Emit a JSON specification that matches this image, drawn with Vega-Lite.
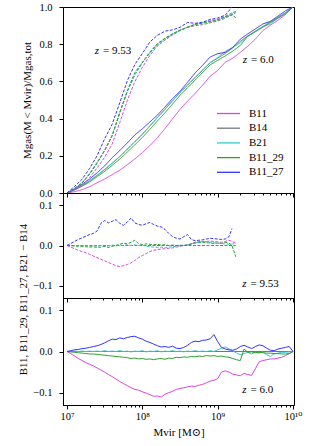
{
  "$schema": "https://vega.github.io/schema/vega-lite/v6.json",
  "padding": {"left": 17, "top": 1, "right": 0, "bottom": 0},
  "bounds": "flush",
  "spacing": 0,
  "config": {
    "font": "Liberation Serif, DejaVu Serif, serif",
    "view": {"stroke": "black", "strokeWidth": 1},
    "axis": {"grid": false, "domainColor": "black", "tickColor": "black", "labelColor": "black", "titleColor": "black", "labelFont": "Liberation Serif, DejaVu Serif, serif", "titleFont": "Liberation Serif, DejaVu Serif, serif", "labelFontSize": 10.5, "titleFontSize": 11, "titleFontWeight": "normal", "tickSize": 4, "labelPadding": 7},
    "legend": {"labelFont": "Liberation Serif, DejaVu Serif, serif"},
    "text": {"font": "Liberation Serif, DejaVu Serif, serif"}
  },
  "datasets": {
    "top": [
      {"z":"6.0","m":1e7,"B11":0,"B14":0,"B21":0,"B11_29":0,"B11_27":0},
      {"z":"6.0","m":1.259e7,"B11":0.007,"B14":0.018,"B21":0.019,"B11_29":0.016,"B11_27":0.022},
      {"z":"6.0","m":1.585e7,"B11":0.018,"B14":0.04,"B21":0.041,"B11_29":0.036,"B11_27":0.047},
      {"z":"6.0","m":1.995e7,"B11":0.034,"B14":0.065,"B21":0.066,"B11_29":0.059,"B11_27":0.075},
      {"z":"6.0","m":2.512e7,"B11":0.055,"B14":0.095,"B21":0.096,"B11_29":0.088,"B11_27":0.109},
      {"z":"6.0","m":3.162e7,"B11":0.075,"B14":0.125,"B21":0.127,"B11_29":0.116,"B11_27":0.146},
      {"z":"6.0","m":3.981e7,"B11":0.099,"B14":0.16,"B21":0.161,"B11_29":0.149,"B11_27":0.19},
      {"z":"6.0","m":5.012e7,"B11":0.122,"B14":0.195,"B21":0.197,"B11_29":0.182,"B11_27":0.228},
      {"z":"6.0","m":6.31e7,"B11":0.152,"B14":0.235,"B21":0.236,"B11_29":0.22,"B11_27":0.269},
      {"z":"6.0","m":7.943e7,"B11":0.183,"B14":0.275,"B21":0.276,"B11_29":0.259,"B11_27":0.312},
      {"z":"6.0","m":1e8,"B11":0.217,"B14":0.315,"B21":0.317,"B11_29":0.298,"B11_27":0.345},
      {"z":"6.0","m":1.259e8,"B11":0.255,"B14":0.36,"B21":0.361,"B11_29":0.342,"B11_27":0.382},
      {"z":"6.0","m":1.585e8,"B11":0.297,"B14":0.405,"B21":0.407,"B11_29":0.387,"B11_27":0.419},
      {"z":"6.0","m":1.995e8,"B11":0.346,"B14":0.45,"B21":0.451,"B11_29":0.431,"B11_27":0.462},
      {"z":"6.0","m":2.512e8,"B11":0.398,"B14":0.495,"B21":0.497,"B11_29":0.478,"B11_27":0.508},
      {"z":"6.0","m":3.162e8,"B11":0.45,"B14":0.54,"B21":0.541,"B11_29":0.525,"B11_27":0.547},
      {"z":"6.0","m":3.981e8,"B11":0.494,"B14":0.58,"B21":0.581,"B11_29":0.566,"B11_27":0.595},
      {"z":"6.0","m":5.012e8,"B11":0.535,"B14":0.62,"B21":0.622,"B11_29":0.607,"B11_27":0.645},
      {"z":"6.0","m":6.31e8,"B11":0.58,"B14":0.66,"B21":0.661,"B11_29":0.648,"B11_27":0.687},
      {"z":"6.0","m":7.943e8,"B11":0.628,"B14":0.7,"B21":0.702,"B11_29":0.689,"B11_27":0.731},
      {"z":"6.0","m":1e9,"B11":0.659,"B14":0.725,"B21":0.729,"B11_29":0.713,"B11_27":0.749},
      {"z":"6.0","m":1.259e9,"B11":0.703,"B14":0.75,"B21":0.761,"B11_29":0.737,"B11_27":0.756},
      {"z":"6.0","m":1.585e9,"B11":0.725,"B14":0.78,"B21":0.782,"B11_29":0.763,"B11_27":0.783},
      {"z":"6.0","m":1.995e9,"B11":0.756,"B14":0.815,"B21":0.807,"B11_29":0.793,"B11_27":0.827},
      {"z":"6.0","m":2.512e9,"B11":0.789,"B14":0.845,"B21":0.843,"B11_29":0.843,"B11_27":0.856},
      {"z":"6.0","m":3.162e9,"B11":0.828,"B14":0.87,"B21":0.868,"B11_29":0.867,"B11_27":0.882},
      {"z":"6.0","m":3.981e9,"B11":0.873,"B14":0.895,"B21":0.894,"B11_29":0.892,"B11_27":0.909},
      {"z":"6.0","m":5.012e9,"B11":0.902,"B14":0.92,"B21":0.908,"B11_29":0.916,"B11_27":0.923},
      {"z":"6.0","m":6.31e9,"B11":0.929,"B14":0.945,"B21":0.941,"B11_29":0.94,"B11_27":0.951},
      {"z":"6.0","m":7.943e9,"B11":0.96,"B14":0.97,"B21":0.968,"B11_29":0.964,"B11_27":0.98},
      {"z":"6.0","m":1e10,"B11":1,"B14":1,"B21":1,"B11_29":1,"B11_27":1},
      {"z":"9.53","m":1e7,"B11":0,"B14":0,"B21":0,"B11_29":0,"B11_27":0},
      {"z":"9.53","m":1.259e7,"B11":0.017,"B14":0.025,"B21":0.024,"B11_29":0.024,"B11_27":0.035},
      {"z":"9.53","m":1.585e7,"B11":0.04,"B14":0.055,"B21":0.054,"B11_29":0.053,"B11_27":0.074},
      {"z":"9.53","m":1.995e7,"B11":0.083,"B14":0.105,"B21":0.103,"B11_29":0.101,"B11_27":0.132},
      {"z":"9.53","m":2.512e7,"B11":0.135,"B14":0.165,"B21":0.163,"B11_29":0.16,"B11_27":0.201},
      {"z":"9.53","m":3.162e7,"B11":0.192,"B14":0.23,"B21":0.228,"B11_29":0.228,"B11_27":0.292},
      {"z":"9.53","m":3.981e7,"B11":0.264,"B14":0.31,"B21":0.311,"B11_29":0.308,"B11_27":0.37},
      {"z":"9.53","m":5.012e7,"B11":0.378,"B14":0.43,"B21":0.431,"B11_29":0.433,"B11_27":0.485},
      {"z":"9.53","m":6.31e7,"B11":0.498,"B14":0.545,"B21":0.547,"B11_29":0.549,"B11_27":0.603},
      {"z":"9.53","m":7.943e7,"B11":0.598,"B14":0.635,"B21":0.637,"B11_29":0.648,"B11_27":0.691},
      {"z":"9.53","m":1e8,"B11":0.675,"B14":0.7,"B21":0.701,"B11_29":0.702,"B11_27":0.75},
      {"z":"9.53","m":1.259e8,"B11":0.74,"B14":0.755,"B21":0.752,"B11_29":0.758,"B11_27":0.812},
      {"z":"9.53","m":1.585e8,"B11":0.79,"B14":0.8,"B21":0.795,"B11_29":0.803,"B11_27":0.848},
      {"z":"9.53","m":1.995e8,"B11":0.822,"B14":0.83,"B21":0.824,"B11_29":0.832,"B11_27":0.87},
      {"z":"9.53","m":2.512e8,"B11":0.849,"B14":0.855,"B21":0.852,"B11_29":0.856,"B11_27":0.877},
      {"z":"9.53","m":3.162e8,"B11":0.873,"B14":0.875,"B21":0.874,"B11_29":0.876,"B11_27":0.891},
      {"z":"9.53","m":3.981e8,"B11":0.892,"B14":0.89,"B21":0.892,"B11_29":0.891,"B11_27":0.917},
      {"z":"9.53","m":5.012e8,"B11":0.908,"B14":0.9,"B21":0.906,"B11_29":0.906,"B11_27":0.912},
      {"z":"9.53","m":6.31e8,"B11":0.915,"B14":0.905,"B21":0.915,"B11_29":0.913,"B11_27":0.919},
      {"z":"9.53","m":7.943e8,"B11":0.926,"B14":0.915,"B21":0.923,"B11_29":0.921,"B11_27":0.933},
      {"z":"9.53","m":1e9,"B11":0.934,"B14":0.925,"B21":0.931,"B11_29":0.931,"B11_27":0.941},
      {"z":"9.53","m":1.259e9,"B11":0.95,"B14":0.94,"B21":0.944,"B11_29":0.948,"B11_27":0.956},
      {"z":"9.53","m":1.549e9,"B11":0.968,"B14":0.958,"B21":0.962,"B11_29":0.958,"B11_27":1.0},
      {"z":"9.53","m":1.738e9,"B11":0.976,"B14":0.97,"B21":0.974,"B11_29":0.942}
    ],
    "diff": [
      {"z":"6.0","m":1e7,"B11":0,"B14":0,"B21":0,"B11_29":0,"B11_27":0},
      {"z":"6.0","m":1.122e7,"B11":-0.005,"B21":0.0,"B11_29":-0.001,"B11_27":0.002},
      {"z":"6.0","m":1.259e7,"B11":-0.011,"B21":0.001,"B11_29":-0.002,"B11_27":0.004},
      {"z":"6.0","m":1.413e7,"B11":-0.017,"B21":0.0,"B11_29":-0.003,"B11_27":0.005},
      {"z":"6.0","m":1.585e7,"B11":-0.022,"B21":0.001,"B11_29":-0.004,"B11_27":0.007},
      {"z":"6.0","m":1.778e7,"B11":-0.027,"B21":0.0,"B11_29":-0.005,"B11_27":0.008},
      {"z":"6.0","m":1.995e7,"B11":-0.031,"B21":0.001,"B11_29":-0.006,"B11_27":0.01},
      {"z":"6.0","m":2.239e7,"B11":-0.035,"B21":0.0,"B11_29":-0.006,"B11_27":0.012},
      {"z":"6.0","m":2.512e7,"B11":-0.04,"B21":0.001,"B11_29":-0.007,"B11_27":0.014},
      {"z":"6.0","m":2.818e7,"B11":-0.045,"B21":0.0,"B11_29":-0.008,"B11_27":0.017},
      {"z":"6.0","m":3.162e7,"B11":-0.05,"B21":0.002,"B11_29":-0.009,"B11_27":0.021},
      {"z":"6.0","m":3.548e7,"B11":-0.056,"B21":0.0,"B11_29":-0.01,"B11_27":0.026},
      {"z":"6.0","m":3.981e7,"B11":-0.061,"B21":0.001,"B11_29":-0.011,"B11_27":0.03},
      {"z":"6.0","m":4.467e7,"B11":-0.067,"B21":0.0,"B11_29":-0.012,"B11_27":0.029},
      {"z":"6.0","m":5.012e7,"B11":-0.073,"B21":0.002,"B11_29":-0.013,"B11_27":0.033},
      {"z":"6.0","m":5.623e7,"B11":-0.078,"B21":0.0,"B11_29":-0.014,"B11_27":0.031},
      {"z":"6.0","m":6.31e7,"B11":-0.083,"B21":0.001,"B11_29":-0.015,"B11_27":0.034},
      {"z":"6.0","m":7.079e7,"B11":-0.088,"B21":-0.001,"B11_29":-0.017,"B11_27":0.036},
      {"z":"6.0","m":7.943e7,"B11":-0.092,"B21":0.001,"B11_29":-0.016,"B11_27":0.037},
      {"z":"6.0","m":8.913e7,"B11":-0.094,"B21":0.0,"B11_29":-0.018,"B11_27":0.033},
      {"z":"6.0","m":1e8,"B11":-0.098,"B21":0.002,"B11_29":-0.017,"B11_27":0.03},
      {"z":"6.0","m":1.122e8,"B11":-0.101,"B21":-0.001,"B11_29":-0.019,"B11_27":0.025},
      {"z":"6.0","m":1.259e8,"B11":-0.105,"B21":0.001,"B11_29":-0.018,"B11_27":0.022},
      {"z":"6.0","m":1.413e8,"B11":-0.109,"B21":0.0,"B11_29":-0.02,"B11_27":0.018},
      {"z":"6.0","m":1.585e8,"B11":-0.108,"B21":0.002,"B11_29":-0.018,"B11_27":0.014},
      {"z":"6.0","m":1.778e8,"B11":-0.111,"B21":-0.001,"B11_29":-0.017,"B11_27":0.011},
      {"z":"6.0","m":1.995e8,"B11":-0.104,"B21":0.001,"B11_29":-0.019,"B11_27":0.012},
      {"z":"6.0","m":2.239e8,"B11":-0.1,"B21":0.0,"B11_29":-0.016,"B11_27":0.01},
      {"z":"6.0","m":2.512e8,"B11":-0.097,"B21":0.002,"B11_29":-0.017,"B11_27":0.013},
      {"z":"6.0","m":2.818e8,"B11":-0.092,"B21":0.0,"B11_29":-0.014,"B11_27":0.008},
      {"z":"6.0","m":3.162e8,"B11":-0.09,"B21":0.001,"B11_29":-0.015,"B11_27":0.007},
      {"z":"6.0","m":3.548e8,"B11":-0.088,"B21":-0.001,"B11_29":-0.013,"B11_27":0.01},
      {"z":"6.0","m":3.981e8,"B11":-0.086,"B21":0.001,"B11_29":-0.014,"B11_27":0.015},
      {"z":"6.0","m":4.467e8,"B11":-0.084,"B21":0.0,"B11_29":-0.012,"B11_27":0.022},
      {"z":"6.0","m":5.012e8,"B11":-0.085,"B21":0.002,"B11_29":-0.013,"B11_27":0.025},
      {"z":"6.0","m":5.623e8,"B11":-0.082,"B21":0.0,"B11_29":-0.011,"B11_27":0.024},
      {"z":"6.0","m":6.31e8,"B11":-0.08,"B21":0.001,"B11_29":-0.012,"B11_27":0.027},
      {"z":"6.0","m":7.079e8,"B11":-0.076,"B21":0.0,"B11_29":-0.01,"B11_27":0.028},
      {"z":"6.0","m":7.943e8,"B11":-0.072,"B21":0.002,"B11_29":-0.011,"B11_27":0.031},
      {"z":"6.0","m":8.913e8,"B11":-0.07,"B21":0.0,"B11_29":-0.01,"B11_27":0.041},
      {"z":"6.0","m":1e9,"B11":-0.066,"B21":0.004,"B11_29":-0.012,"B11_27":0.024},
      {"z":"6.0","m":1.122e9,"B11":-0.05,"B21":0.008,"B11_29":-0.011,"B11_27":0.01},
      {"z":"6.0","m":1.259e9,"B11":-0.047,"B21":0.011,"B11_29":-0.013,"B11_27":0.006},
      {"z":"6.0","m":1.413e9,"B11":-0.05,"B21":0.006,"B11_29":-0.014,"B11_27":0.004},
      {"z":"6.0","m":1.585e9,"B11":-0.055,"B21":0.002,"B11_29":-0.017,"B11_27":0.003},
      {"z":"6.0","m":1.778e9,"B11":-0.057,"B21":-0.004,"B11_29":-0.02,"B11_27":0.006},
      {"z":"6.0","m":1.995e9,"B11":-0.059,"B21":-0.008,"B11_29":-0.022,"B11_27":0.012},
      {"z":"6.0","m":2.239e9,"B11":-0.053,"B21":-0.005,"B11_29":0.006,"B11_27":0.015},
      {"z":"6.0","m":2.512e9,"B11":-0.056,"B21":-0.002,"B11_29":-0.002,"B11_27":0.011},
      {"z":"6.0","m":2.818e9,"B11":-0.058,"B21":-0.006,"B11_29":-0.001,"B11_27":0.007},
      {"z":"6.0","m":3.162e9,"B11":-0.042,"B21":-0.002,"B11_29":-0.003,"B11_27":0.012},
      {"z":"6.0","m":3.548e9,"B11":-0.025,"B21":-0.004,"B11_29":-0.002,"B11_27":0.016},
      {"z":"6.0","m":3.981e9,"B11":-0.022,"B21":-0.001,"B11_29":-0.003,"B11_27":0.014},
      {"z":"6.0","m":4.467e9,"B11":-0.02,"B21":-0.008,"B11_29":-0.004,"B11_27":0.008},
      {"z":"6.0","m":5.012e9,"B11":-0.018,"B21":-0.012,"B11_29":-0.004,"B11_27":0.003},
      {"z":"6.0","m":5.623e9,"B11":-0.018,"B21":-0.006,"B11_29":-0.005,"B11_27":0.002},
      {"z":"6.0","m":6.31e9,"B11":-0.016,"B21":-0.004,"B11_29":-0.005,"B11_27":0.006},
      {"z":"6.0","m":7.079e9,"B11":-0.014,"B21":-0.002,"B11_29":-0.006,"B11_27":0.008},
      {"z":"6.0","m":7.943e9,"B11":-0.01,"B21":-0.002,"B11_29":-0.006,"B11_27":0.01},
      {"z":"6.0","m":8.913e9,"B11":-0.005,"B21":-0.001,"B11_29":-0.005,"B11_27":0.012},
      {"z":"6.0","m":1e10,"B11":0,"B14":0,"B21":0,"B11_29":0,"B11_27":0},
      {"z":"9.53","m":1e7,"B11":0,"B14":0,"B21":0,"B11_29":0,"B11_27":0},
      {"z":"9.53","m":1.122e7,"B11":-0.004,"B21":0.0,"B11_29":0.0,"B11_27":0.005},
      {"z":"9.53","m":1.259e7,"B11":-0.008,"B21":-0.001,"B11_29":-0.001,"B11_27":0.01},
      {"z":"9.53","m":1.413e7,"B11":-0.012,"B21":0.0,"B11_29":-0.002,"B11_27":0.015},
      {"z":"9.53","m":1.585e7,"B11":-0.015,"B21":-0.001,"B11_29":-0.002,"B11_27":0.019},
      {"z":"9.53","m":1.778e7,"B11":-0.018,"B21":0.0,"B11_29":-0.003,"B11_27":0.023},
      {"z":"9.53","m":1.995e7,"B11":-0.022,"B21":-0.002,"B11_29":-0.004,"B11_27":0.027},
      {"z":"9.53","m":2.239e7,"B11":-0.026,"B21":0.0,"B11_29":-0.003,"B11_27":0.03},
      {"z":"9.53","m":2.512e7,"B11":-0.03,"B21":-0.002,"B11_29":-0.005,"B11_27":0.036},
      {"z":"9.53","m":2.818e7,"B11":-0.034,"B21":0.0,"B11_29":-0.004,"B11_27":0.055},
      {"z":"9.53","m":3.162e7,"B11":-0.038,"B21":-0.002,"B11_29":-0.002,"B11_27":0.062},
      {"z":"9.53","m":3.548e7,"B11":-0.042,"B21":-0.001,"B11_29":-0.005,"B11_27":0.056},
      {"z":"9.53","m":3.981e7,"B11":-0.046,"B21":0.001,"B11_29":-0.002,"B11_27":0.06},
      {"z":"9.53","m":4.467e7,"B11":-0.05,"B21":-0.001,"B11_29":0.0,"B11_27":0.064},
      {"z":"9.53","m":5.012e7,"B11":-0.052,"B21":0.001,"B11_29":0.003,"B11_27":0.055},
      {"z":"9.53","m":5.623e7,"B11":-0.05,"B21":0.0,"B11_29":0.006,"B11_27":0.05},
      {"z":"9.53","m":6.31e7,"B11":-0.047,"B21":0.002,"B11_29":0.004,"B11_27":0.058},
      {"z":"9.53","m":7.079e7,"B11":-0.043,"B21":0.0,"B11_29":0.008,"B11_27":0.068},
      {"z":"9.53","m":7.943e7,"B11":-0.037,"B21":0.002,"B11_29":0.013,"B11_27":0.056},
      {"z":"9.53","m":8.913e7,"B11":-0.03,"B21":0.0,"B11_29":0.005,"B11_27":0.052},
      {"z":"9.53","m":1e8,"B11":-0.025,"B21":0.001,"B11_29":0.002,"B11_27":0.05},
      {"z":"9.53","m":1.122e8,"B11":-0.02,"B21":-0.002,"B11_29":0.004,"B11_27":0.054},
      {"z":"9.53","m":1.259e8,"B11":-0.015,"B21":-0.003,"B11_29":0.003,"B11_27":0.057},
      {"z":"9.53","m":1.413e8,"B11":-0.012,"B21":-0.004,"B11_29":0.002,"B11_27":0.052},
      {"z":"9.53","m":1.585e8,"B11":-0.01,"B21":-0.005,"B11_29":0.003,"B11_27":0.048},
      {"z":"9.53","m":1.778e8,"B11":-0.009,"B21":-0.004,"B11_29":0.001,"B11_27":0.046},
      {"z":"9.53","m":1.995e8,"B11":-0.008,"B21":-0.006,"B11_29":0.002,"B11_27":0.04},
      {"z":"9.53","m":2.239e8,"B11":-0.007,"B21":-0.004,"B11_29":0.0,"B11_27":0.03},
      {"z":"9.53","m":2.512e8,"B11":-0.006,"B21":-0.003,"B11_29":0.001,"B11_27":0.022},
      {"z":"9.53","m":2.818e8,"B11":-0.004,"B21":-0.002,"B11_29":0.0,"B11_27":0.018},
      {"z":"9.53","m":3.162e8,"B11":-0.002,"B21":-0.001,"B11_29":0.001,"B11_27":0.016},
      {"z":"9.53","m":3.548e8,"B11":0.0,"B21":0.0,"B11_29":0.0,"B11_27":0.022},
      {"z":"9.53","m":3.981e8,"B11":0.002,"B21":0.002,"B11_29":0.001,"B11_27":0.027},
      {"z":"9.53","m":4.467e8,"B11":0.004,"B21":0.004,"B11_29":0.004,"B11_27":0.015},
      {"z":"9.53","m":5.012e8,"B11":0.008,"B21":0.006,"B11_29":0.006,"B11_27":0.012},
      {"z":"9.53","m":5.623e8,"B11":0.01,"B21":0.008,"B11_29":0.007,"B11_27":0.013},
      {"z":"9.53","m":6.31e8,"B11":0.01,"B21":0.01,"B11_29":0.008,"B11_27":0.014},
      {"z":"9.53","m":7.079e8,"B11":0.01,"B21":0.009,"B11_29":0.007,"B11_27":0.016},
      {"z":"9.53","m":7.943e8,"B11":0.011,"B21":0.008,"B11_29":0.006,"B11_27":0.018},
      {"z":"9.53","m":8.913e8,"B11":0.01,"B21":0.007,"B11_29":0.005,"B11_27":0.017},
      {"z":"9.53","m":1e9,"B11":0.009,"B21":0.006,"B11_29":0.006,"B11_27":0.016},
      {"z":"9.53","m":1.122e9,"B11":0.008,"B21":0.005,"B11_29":0.005,"B11_27":0.015},
      {"z":"9.53","m":1.259e9,"B11":0.01,"B21":0.004,"B11_29":0.008,"B11_27":0.016},
      {"z":"9.53","m":1.413e9,"B11":0.013,"B21":0.003,"B11_29":0.006,"B11_27":0.022},
      {"z":"9.53","m":1.549e9,"B11":0.01,"B21":0.004,"B11_29":0.0,"B11_27":0.042},
      {"z":"9.53","m":1.738e9,"B11":0.006,"B14":0,"B21":0.004,"B11_29":-0.028}
    ],
    "notes": [
      {"panel":"top","m":3.0e7,"v":0.763,"t":"= 9.53"},
      {"panel":"top","m":2.77e9,"v":0.713,"t":"= 6.0"},
      {"panel":"mid","m":2.72e9,"v":-0.096,"t":"= 9.53"},
      {"panel":"bot","m":2.72e9,"v":-0.093,"t":"= 6.0"}
    ]
  },
  "resolve": {"scale": {"color": "independent"}, "legend": {"color": "independent"}},
  "vconcat": [
    {
      "width": 231, "height": 186,
      "encoding": {
        "x": {"field": "m", "type": "quantitative", "scale": {"type": "log", "domain": [8.85e6, 1.03e10], "nice": false},
          "axis": {"values": [1e7,2e7,3e7,4e7,5e7,6e7,7e7,8e7,9e7,1e8,2e8,3e8,4e8,5e8,6e8,7e8,8e8,9e8,1e9,2e9,3e9,4e9,5e9,6e9,7e9,8e9,9e9,1e10],
            "labels": false, "title": null,
            "tickSize": {"condition": {"test": "abs(log(datum.value)/LN10 - round(log(datum.value)/LN10)) < 0.01", "value": 4}, "value": 2}}},
        "y": {"field": "v", "type": "quantitative", "scale": {"domain": [0, 1], "nice": false},
          "axis": {"values": [0, 0.2, 0.4, 0.6, 0.8, 1.0], "format": ".1f", "title": "Mgas(M < Mvir)/Mgas,tot", "titlePadding": 6}}
      },
      "layer": [
        {
          "data": {"name": "top"},
          "transform": [
            {"fold": ["B11", "B14", "B21", "B11_29", "B11_27"], "as": ["run", "v"]},
            {"filter": "isValid(datum.v)"}
          ],
          "mark": {"type": "line", "strokeWidth": 1, "clip": true},
          "encoding": {
            "color": {"field": "run", "type": "nominal",
              "scale": {"domain": ["B11", "B14", "B21", "B11_29", "B11_27"], "range": ["#dd44dd", "#777777", "#33cccc", "#2f9f2f", "#3333ff"]},
              "legend": {"orient": "none", "legendX": 157, "legendY": 98, "title": null, "symbolType": "M-1.5,0H1.5", "symbolSize": 235, "symbolStrokeWidth": 1.3, "labelFontSize": 11, "labelOffset": 12, "rowPadding": 0.7, "padding": 0}},
            "strokeDash": {"field": "z", "type": "nominal", "scale": {"domain": ["6.0", "9.53"], "range": [[1, 0], [3, 1.5]]}, "legend": null}
          }
        },
        {
          "data": {"name": "notes"},
          "transform": [{"filter": "datum.panel == 'top'"}],
          "mark": {"type": "text", "align": "left", "baseline": "middle", "fontSize": 11},
          "encoding": {"text": {"field": "t"}}
        },
        {
          "data": {"name": "notes"},
          "transform": [{"filter": "datum.panel == 'top'"}],
          "mark": {"type": "text", "align": "right", "baseline": "middle", "fontSize": 11, "fontStyle": "italic", "dx": -4},
          "encoding": {"text": {"value": "z"}}
        }
      ]
    },
    {
      "width": 231, "height": 105,
      "encoding": {
        "x": {"field": "m", "type": "quantitative", "scale": {"type": "log", "domain": [8.85e6, 1.03e10], "nice": false},
          "axis": {"values": [1e7,2e7,3e7,4e7,5e7,6e7,7e7,8e7,9e7,1e8,2e8,3e8,4e8,5e8,6e8,7e8,8e8,9e8,1e9,2e9,3e9,4e9,5e9,6e9,7e9,8e9,9e9,1e10],
            "labels": false, "title": null,
            "tickSize": {"condition": {"test": "abs(log(datum.value)/LN10 - round(log(datum.value)/LN10)) < 0.01", "value": 4}, "value": 2}}},
        "y": {"field": "v", "type": "quantitative", "scale": {"domain": [-0.13, 0.13], "nice": false},
          "axis": {"values": [-0.1, 0, 0.1], "format": ".1f", "title": "B11, B11_29, B11_27, B21 − B14", "titlePadding": 4, "titleY": 106}}
      },
      "layer": [
        {
          "data": {"name": "diff"},
          "transform": [
            {"filter": "datum.z == '9.53'"},
            {"fold": ["B11", "B14", "B21", "B11_29", "B11_27"], "as": ["run", "v"]},
            {"filter": "isValid(datum.v)"}
          ],
          "mark": {"type": "line", "strokeWidth": 1, "strokeDash": [3, 1.5], "clip": true},
          "encoding": {
            "color": {"field": "run", "type": "nominal",
              "scale": {"domain": ["B11", "B14", "B21", "B11_29", "B11_27"], "range": ["#dd44dd", "#777777", "#33cccc", "#2f9f2f", "#3333ff"]},
              "legend": null}
          }
        },
        {
          "data": {"name": "notes"},
          "transform": [{"filter": "datum.panel == 'mid'"}],
          "mark": {"type": "text", "align": "left", "baseline": "middle", "fontSize": 11},
          "encoding": {"text": {"field": "t"}}
        },
        {
          "data": {"name": "notes"},
          "transform": [{"filter": "datum.panel == 'mid'"}],
          "mark": {"type": "text", "align": "right", "baseline": "middle", "fontSize": 11, "fontStyle": "italic", "dx": -4},
          "encoding": {"text": {"value": "z"}}
        }
      ]
    },
    {
      "width": 231, "height": 107,
      "encoding": {
        "x": {"field": "m", "type": "quantitative", "scale": {"type": "log", "domain": [8.85e6, 1.03e10], "nice": false},
          "axis": {"values": [1e7,2e7,3e7,4e7,5e7,6e7,7e7,8e7,9e7,1e8,2e8,3e8,4e8,5e8,6e8,7e8,8e8,9e8,1e9,2e9,3e9,4e9,5e9,6e9,7e9,8e9,9e9,1e10],
            "labelExpr": "datum.value == 1e7 ? '10⁷' : datum.value == 1e8 ? '10⁸' : datum.value == 1e9 ? '10⁹' : datum.value == 1e10 ? '10¹⁰' : ''",
            "labelFlush": false, "labelOverlap": false, "labelPadding": 2,
            "title": "Mvir [M⊙]", "titlePadding": 5,
            "tickSize": {"condition": {"test": "abs(log(datum.value)/LN10 - round(log(datum.value)/LN10)) < 0.01", "value": 4}, "value": 2}}},
        "y": {"field": "v", "type": "quantitative", "scale": {"domain": [-0.13, 0.13], "nice": false},
          "axis": {"values": [-0.1, 0, 0.1], "format": ".1f", "title": null}}
      },
      "layer": [
        {
          "data": {"name": "diff"},
          "transform": [
            {"filter": "datum.z == '6.0'"},
            {"fold": ["B11", "B14", "B21", "B11_29", "B11_27"], "as": ["run", "v"]},
            {"filter": "isValid(datum.v)"}
          ],
          "mark": {"type": "line", "strokeWidth": 1, "clip": true},
          "encoding": {
            "color": {"field": "run", "type": "nominal",
              "scale": {"domain": ["B11", "B14", "B21", "B11_29", "B11_27"], "range": ["#dd44dd", "#777777", "#33cccc", "#2f9f2f", "#3333ff"]},
              "legend": null}
          }
        },
        {
          "data": {"name": "notes"},
          "transform": [{"filter": "datum.panel == 'bot'"}],
          "mark": {"type": "text", "align": "left", "baseline": "middle", "fontSize": 11},
          "encoding": {"text": {"field": "t"}}
        },
        {
          "data": {"name": "notes"},
          "transform": [{"filter": "datum.panel == 'bot'"}],
          "mark": {"type": "text", "align": "right", "baseline": "middle", "fontSize": 11, "fontStyle": "italic", "dx": -4},
          "encoding": {"text": {"value": "z"}}
        }
      ]
    }
  ]
}
